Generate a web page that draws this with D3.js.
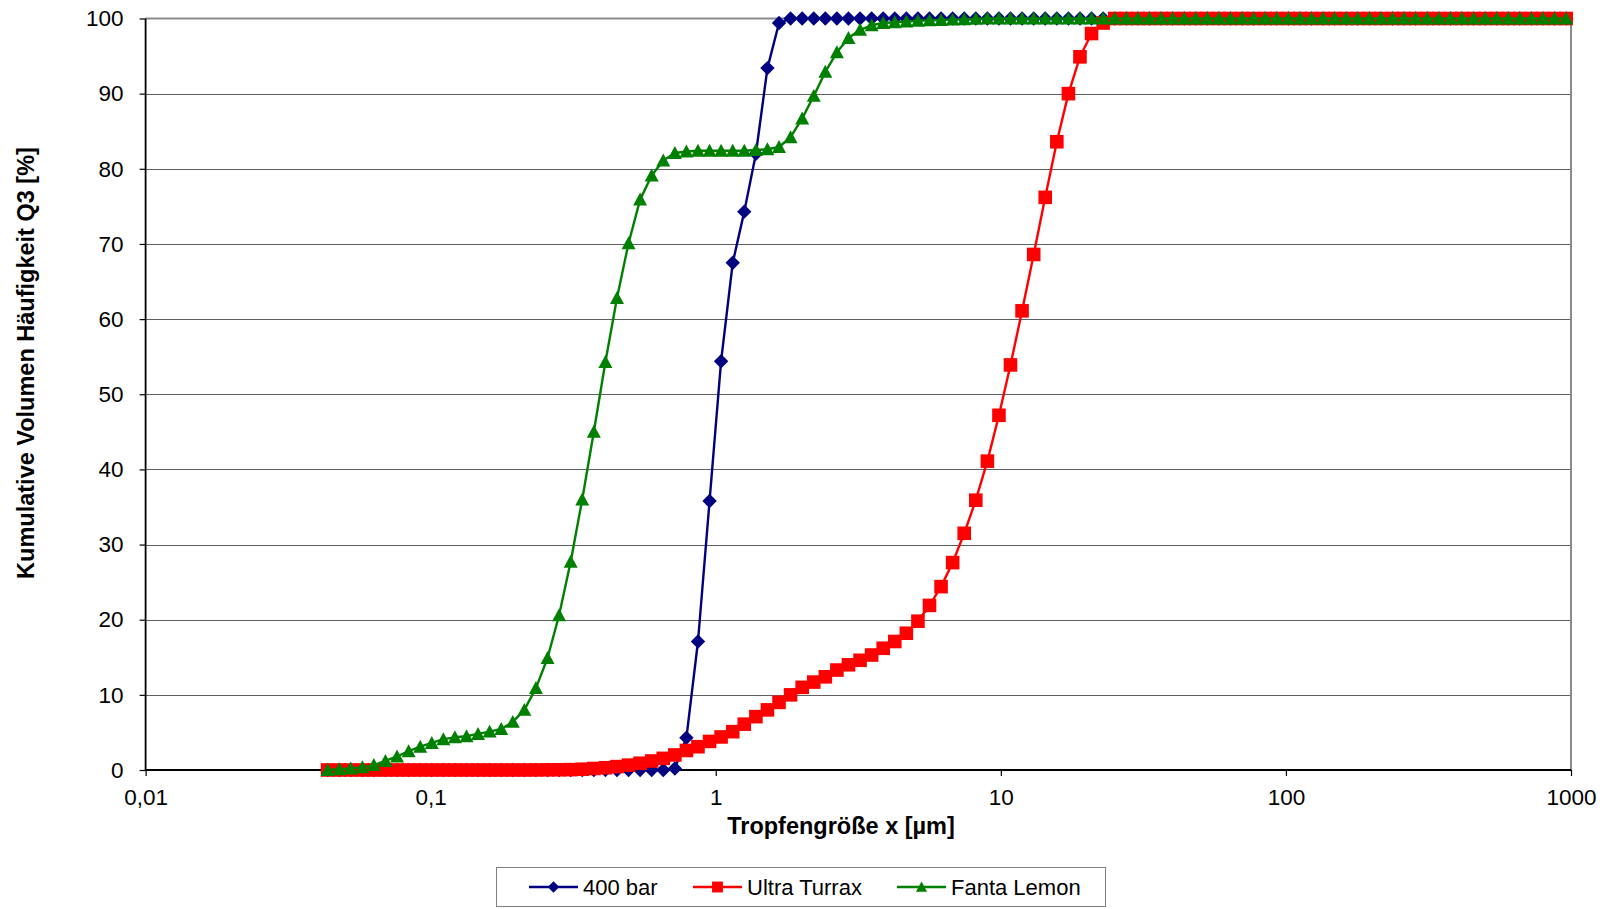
<!DOCTYPE html>
<html>
<head>
<meta charset="utf-8">
<script src="https://cdn.jsdelivr.net/npm/d3@7"></script>
<style>
  body { margin: 0; background: #fff; }
  svg { display: block; font-family: "Liberation Sans", Arial, sans-serif; }
</style>
</head>
<body>
<svg id="chart" width="1608" height="909"></svg>
<script>
// droplet size classes [µm]
var sizes = [
  0.0435, 0.0478, 0.0524, 0.0576, 0.0632, 0.0694, 0.0762, 0.0837, 0.0919, 0.1009,
  0.1108, 0.1216, 0.1336, 0.1466, 0.161, 0.1768, 0.1941, 0.2131, 0.234, 0.257,
  0.2821, 0.3098, 0.3401, 0.3735, 0.4101, 0.4503, 0.4944, 0.5428, 0.596, 0.6544,
  0.7186, 0.789, 0.8663, 0.9512, 1.044, 1.147, 1.259, 1.383, 1.518, 1.667,
  1.83, 2.01, 2.207, 2.423, 2.66, 2.921, 3.207, 3.522, 3.867, 4.246,
  4.662, 5.119, 5.62, 6.171, 6.776, 7.44, 8.169, 8.97, 9.849, 10.81,
  11.87, 13.04, 14.31, 15.72, 17.26, 18.95, 20.81, 22.85, 25.09, 27.55,
  30.25, 33.21, 36.47, 40.04, 43.97, 48.27, 53.0, 58.2, 63.9, 70.16,
  77.04, 84.59, 92.88, 102.0, 112.0, 122.9, 135.0, 148.2, 162.8, 178.7,
  196.2, 215.5, 236.6, 259.8, 285.2, 313.2, 343.9, 377.6, 414.6, 455.2,
  499.8, 548.8, 602.6, 661.6, 726.5, 797.7, 875.8, 961.7
];

var bar400 = [
  0, 0, 0, 0, 0, 0, 0, 0, 0, 0,
  0, 0, 0, 0, 0, 0, 0, 0, 0, 0,
  0, 0, 0, 0, 0, 0, 0, 0, 0, 0,
  0.2, 4.3, 17.1, 35.8, 54.4, 67.5, 74.3, 82.0, 93.4, 99.4,
  100, 100, 100, 100, 100, 100, 100, 100, 100, 100,
  100, 100, 100, 100, 100, 100, 100, 100, 100, 100,
  100, 100, 100, 100, 100, 100, 100, 100, 100, 100,
  100, 100, 100, 100, 100, 100, 100, 100, 100, 100,
  100, 100, 100, 100, 100, 100, 100, 100, 100, 100,
  100, 100, 100, 100, 100, 100, 100, 100, 100, 100,
  100, 100, 100, 100, 100, 100, 100, 100
];

var ultraTurrax = [
  0, 0, 0, 0, 0, 0, 0, 0, 0, 0,
  0, 0, 0, 0, 0, 0, 0, 0, 0.01, 0.02,
  0.03, 0.05, 0.1, 0.2, 0.3, 0.45, 0.65, 0.9, 1.2, 1.55,
  2.0, 2.6, 3.1, 3.8, 4.4, 5.1, 6.1, 7.1, 8.0, 9.0,
  10.0, 11.0, 11.7, 12.4, 13.3, 14.0, 14.6, 15.3, 16.2, 17.1,
  18.2, 19.8, 21.9, 24.4, 27.6, 31.5, 35.9, 41.1, 47.2, 53.9,
  61.1, 68.6, 76.2, 83.6, 90.0, 94.9, 98.0, 99.4, 100, 100,
  100, 100, 100, 100, 100, 100, 100, 100, 100, 100,
  100, 100, 100, 100, 100, 100, 100, 100, 100, 100,
  100, 100, 100, 100, 100, 100, 100, 100, 100, 100,
  100, 100, 100, 100, 100, 100, 100, 100
];

var fantaLemon = [
  0, 0.1, 0.2, 0.35, 0.65, 1.2, 1.8, 2.5, 3.1, 3.6,
  4.1, 4.35, 4.5, 4.8, 5.1, 5.45, 6.4, 8.0, 10.9, 14.9,
  20.6, 27.7, 36.0, 45.0, 54.3, 62.8, 70.1, 75.9, 79.1, 81.1,
  82.1, 82.3, 82.4, 82.4, 82.4, 82.4, 82.4, 82.5, 82.6, 82.9,
  84.2, 86.7, 89.7, 92.9, 95.5, 97.4, 98.5, 99.1, 99.4, 99.5,
  99.6, 99.7, 99.75, 99.8, 99.85, 99.9, 99.95, 100, 100, 100,
  100, 100, 100, 100, 100, 100, 100, 100, 100, 100,
  100, 100, 100, 100, 100, 100, 100, 100, 100, 100,
  100, 100, 100, 100, 100, 100, 100, 100, 100, 100,
  100, 100, 100, 100, 100, 100, 100, 100, 100, 100,
  100, 100, 100, 100, 100, 100, 100, 100
];

var seriesNames = ["400 bar", "Ultra Turrax", "Fanta Lemon"];
var xTicks = [0.01, 0.1, 1, 10, 100, 1000];
var xTickLabels = ["0,01", "0,1", "1", "10", "100", "1000"];
var yTicks = [0, 10, 20, 30, 40, 50, 60, 70, 80, 90, 100];

var colors = ["#000080", "#ff0000", "#008000"];

// marker shapes (Excel style)
function diamond(r) { return "M0," + (-r) + "L" + r + ",0L0," + r + "L" + (-r) + ",0Z"; }
function square(r) { return "M" + (-r) + "," + (-r) + "H" + r + "V" + r + "H" + (-r) + "Z"; }
function triangle(r) { return "M0," + (-r) + "L" + r + "," + (r * 0.85) + "L" + (-r) + "," + (r * 0.85) + "Z"; }
var shapes = [diamond(7.2), square(6.8), triangle(7)];

var svg = d3.select("#chart");
var plotL = 145.6, plotR = 1571, plotT = 18.5, plotB = 770;

var x = d3.scaleLog().domain([0.01, 1000]).range([plotL, plotR]);
var y = d3.scaleLinear().domain([0, 100]).range([plotB, plotT]);

// horizontal gridlines
svg.append("g")
  .selectAll("line")
  .data(yTicks.filter(function(d) { return d > 0 && d < 100; }))
  .enter().append("line")
  .attr("x1", plotL).attr("x2", plotR)
  .attr("y1", function(d) { return Math.round(y(d)) + 0.5; })
  .attr("y2", function(d) { return Math.round(y(d)) + 0.5; })
  .attr("stroke", "#5f5f5f").attr("stroke-width", 1);

// plot frame (top/right gray)
svg.append("path")
  .attr("d", "M" + plotL + "," + y(100) + "H" + plotR + "V" + plotB)
  .attr("fill", "none").attr("stroke", "#8a8a8a").attr("stroke-width", 2);

// axes
var yAxis = d3.axisLeft(y).tickValues(yTicks).tickSize(6).tickPadding(16);
var gy = svg.append("g").attr("transform", "translate(" + plotL + ",0)").call(yAxis);
var xAxis = d3.axisBottom(x).tickValues(xTicks).tickSize(6).tickPadding(13)
  .tickFormat(function(d, i) { return xTickLabels[i]; });
var gx = svg.append("g").attr("transform", "translate(0," + plotB + ")").call(xAxis);

[gx, gy].forEach(function(g) {
  g.select(".domain").attr("stroke", "#000").attr("stroke-width", 1.8);
  g.selectAll(".tick line").attr("stroke", "#000").attr("stroke-width", 1.2);
  g.selectAll(".tick text")
    .attr("fill", "#000")
    .style("font-size", "22.5px")
    .style("font-family", "'Liberation Sans', Arial, sans-serif");
});
gx.select(".domain").attr("d", "M" + plotL + ",0H" + plotR);
gy.select(".domain").attr("d", "M0," + plotT + "V" + plotB);

// axis titles
svg.append("text")
  .attr("x", 841).attr("y", 834)
  .attr("text-anchor", "middle")
  .style("font-size", "23.5px").style("font-weight", "bold")
  .text("Tropfengröße x [µm]");

svg.append("text")
  .attr("transform", "translate(34,363) rotate(-90)")
  .attr("text-anchor", "middle")
  .style("font-size", "23.5px").style("font-weight", "bold")
  .text("Kumulative Volumen Häufigkeit Q3 [%]");

// series
var allSeries = [bar400, ultraTurrax, fantaLemon];
var line = d3.line()
  .x(function(d) { return x(d.size); })
  .y(function(d) { return y(d.value); });

allSeries.forEach(function(values, s) {
  var pts = sizes.map(function(sz, i) { return {size: sz, value: values[i]}; });
  var g = svg.append("g").attr("class", "series");
  g.append("path")
    .attr("d", line(pts))
    .attr("fill", "none")
    .attr("stroke", colors[s])
    .attr("stroke-width", 2.4)
    .attr("stroke-linejoin", "round");
  g.selectAll(".mark")
    .data(pts)
    .enter().append("path")
    .attr("class", "mark")
    .attr("d", shapes[s])
    .attr("transform", function(d) { return "translate(" + x(d.size) + "," + y(d.value) + ")"; })
    .attr("fill", colors[s]);
});

// legend
var legend = svg.append("g");
legend.append("rect")
  .attr("x", 496.5).attr("y", 867.5).attr("width", 609).attr("height", 39)
  .attr("fill", "#fff").attr("stroke", "#808080").attr("stroke-width", 1);

var legendX = [529, 693, 897];
seriesNames.forEach(function(name, s) {
  var lx = legendX[s], ly = 887;
  legend.append("line")
    .attr("x1", lx).attr("x2", lx + 49).attr("y1", ly).attr("y2", ly)
    .attr("stroke", colors[s]).attr("stroke-width", 2.4);
  legend.append("path")
    .attr("d", shapes[s])
    .attr("transform", "translate(" + (lx + 24.5) + "," + ly + ") scale(0.8)")
    .attr("fill", colors[s]);
  legend.append("text")
    .attr("x", lx + 54).attr("y", ly + 8)
    .style("font-size", "22px")
    .text(name);
});
</script>
</body>
</html>
